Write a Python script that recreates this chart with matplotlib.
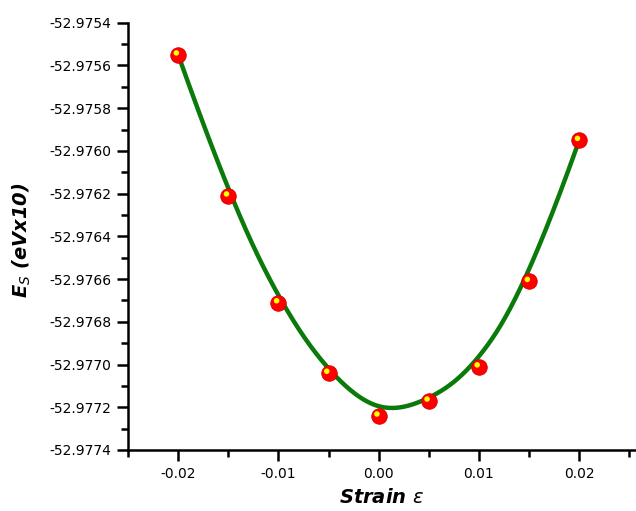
import matplotlib
matplotlib.use("Agg")
import matplotlib.pyplot as plt
import matplotlib.transforms as mtransforms
import numpy as np
from matplotlib.ticker import MultipleLocator, FormatStrFormatter

# strain values and surface energy (eV x10)
strain = [-0.02, -0.015, -0.01, -0.005, 0.0, 0.005, 0.01, 0.015, 0.02]
energy = [-52.97555, -52.97621, -52.97671, -52.97704, -52.97724,
          -52.97717, -52.97701, -52.97661, -52.97595]


def bspline(px, py, k=3, n=400):
    """Clamped uniform B-spline using the data points as control points."""
    px, py = np.asarray(px), np.asarray(py)
    m = len(px)
    inner = np.arange(1, m - k)
    knots = np.concatenate([np.zeros(k + 1), inner, np.full(k + 1, m - k)]).astype(float)
    t = np.linspace(0, m - k, n)
    t[-1] -= 1e-9
    # Cox-de Boor recursion
    B = np.array([(t >= knots[i]) & (t < knots[i + 1]) for i in range(len(knots) - 1)], float)
    for d in range(1, k + 1):
        Bn = np.zeros((len(knots) - 1 - d, n))
        for i in range(len(knots) - 1 - d):
            a = knots[i + d] - knots[i]
            b = knots[i + d + 1] - knots[i + 1]
            left = (t - knots[i]) / a * B[i] if a > 0 else 0
            right = (knots[i + d + 1] - t) / b * B[i + 1] if b > 0 else 0
            Bn[i] = left + right
        B = Bn
    return px @ B, py @ B


fig = plt.figure(figsize=(6.36, 5.11), dpi=100)
ax = fig.add_axes([0.2013, 0.1194, 0.7987, 0.8362])

xs, ys = bspline(strain, energy)
ax.plot(xs, ys, color="#0a7a0a", lw=3.2, zorder=2)

# red balls with a small yellow highlight
ax.scatter(strain, energy, s=125, color="#ff0000", edgecolor="#d80000",
           linewidth=0.6, zorder=3)
hl = mtransforms.offset_copy(ax.transData, fig=fig, x=-1.3, y=1.3, units="points")
ax.scatter(strain, energy, s=16, color="#ffff00", edgecolor="none",
           transform=hl, zorder=4)

ax.set_xlim(-0.025, 0.02566)
ax.set_ylim(-52.9774, -52.9754)

ax.xaxis.set_major_locator(MultipleLocator(0.01))
ax.xaxis.set_minor_locator(MultipleLocator(0.005))
ax.yaxis.set_major_locator(MultipleLocator(0.0002))
ax.yaxis.set_minor_locator(MultipleLocator(0.0001))
ax.xaxis.set_major_formatter(FormatStrFormatter("%.2f"))
ax.yaxis.set_major_formatter(FormatStrFormatter("%.4f"))

for side in ("top", "right"):
    ax.spines[side].set_visible(False)
for side in ("left", "bottom"):
    ax.spines[side].set_linewidth(1.8)

ax.tick_params(which="major", direction="out", length=8, width=1.8,
               labelsize=10, pad=4)
ax.tick_params(which="minor", direction="out", length=5, width=1.8)

ax.set_xlabel(r"Strain $\varepsilon$", fontsize=14, fontweight="bold",
              fontstyle="italic", labelpad=5)
fig.text(0.035, 0.53, r"$\mathbfit{E}_{S}$ (eVx10)", rotation=90,
         fontsize=14, fontweight="bold", fontstyle="italic",
         ha="center", va="center")

fig.savefig("out.png", dpi=100)
